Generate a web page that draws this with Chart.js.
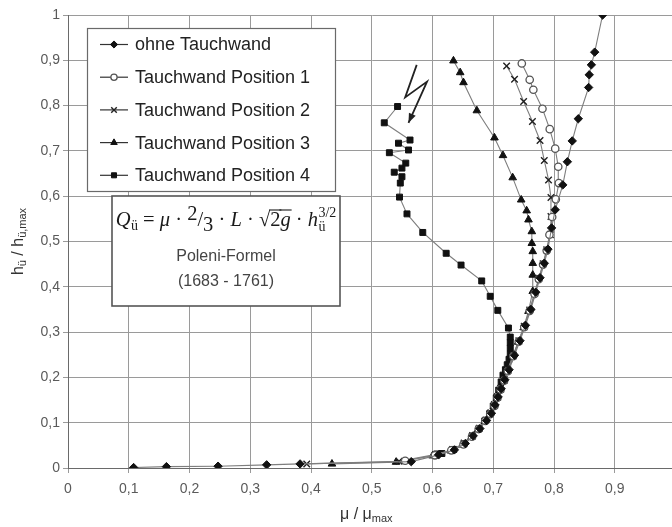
<!DOCTYPE html>
<html>
<head>
<meta charset="utf-8">
<script src="https://cdn.jsdelivr.net/npm/chart.js@4/dist/chart.umd.min.js"></script>
<style>
  html,body{margin:0;padding:0;background:#fff;overflow:hidden;}
  #wrap{width:690px;height:527px;position:relative;}
</style>
</head>
<body>
<div id="wrap"><canvas id="c"></canvas></div>
<script>
// ---------- data ----------
const seriesLabels = ['ohne Tauchwand','Tauchwand Position 1','Tauchwand Position 2','Tauchwand Position 3','Tauchwand Position 4'];
const xTickLabels = ['0','0,1','0,2','0,3','0,4','0,5','0,6','0,7','0,8','0,9','1'];
const yTickLabels = ['0','0,1','0,2','0,3','0,4','0,5','0,6','0,7','0,8','0,9','1'];

const ohneX = [0.108,0.162,0.247,0.327,0.382,0.565,0.610,0.636,0.654,0.667,0.678,0.689,0.697,0.703,0.708,0.713,0.719,0.726,0.735,0.744,0.753,0.762,0.770,0.777,0.784,0.790,0.796,0.802,0.8145,0.822,0.830,0.840,0.857,0.858,0.8615,0.867,0.880];
const ohneY = [0.001,0.003,0.004,0.007,0.009,0.014,0.029,0.040,0.054,0.071,0.087,0.105,0.121,0.139,0.157,0.175,0.195,0.217,0.249,0.281,0.315,0.350,0.388,0.420,0.452,0.483,0.530,0.570,0.625,0.676,0.722,0.771,0.840,0.868,0.890,0.918,1.0];

const pos1X = [0.555,0.604,0.631,0.651,0.665,0.676,0.687,0.695,0.702,0.707,0.712,0.718,0.724,0.733,0.742,0.751,0.760,0.768,0.775,0.782,0.788,0.7925,0.797,0.803,0.808,0.807,0.802,0.793,0.781,0.766,0.760,0.747];
const pos1Y = [0.016,0.028,0.039,0.052,0.069,0.086,0.104,0.119,0.137,0.155,0.173,0.193,0.214,0.247,0.279,0.311,0.347,0.384,0.417,0.449,0.480,0.515,0.554,0.593,0.629,0.665,0.705,0.748,0.793,0.835,0.857,0.893];

const pos2X = [0.393,0.545,0.606,0.633,0.652,0.666,0.677,0.688,0.696,0.702,0.707,0.712,0.718,0.724,0.733,0.742,0.751,0.760,0.768,0.775,0.782,0.788,0.794,0.795,0.795,0.791,0.784,0.777,0.7645,0.750,0.735,0.722];
const pos2Y = [0.009,0.015,0.030,0.041,0.055,0.072,0.088,0.106,0.122,0.140,0.158,0.176,0.196,0.217,0.249,0.281,0.313,0.349,0.386,0.419,0.451,0.482,0.515,0.555,0.597,0.636,0.679,0.723,0.765,0.809,0.858,0.8875];

const pos3X = [0.4345,0.540,0.600,0.630,0.650,0.664,0.675,0.686,0.694,0.701,0.706,0.711,0.717,0.723,0.732,0.741,0.750,0.758,0.765,0.765,0.765,0.765,0.7635,0.7635,0.758,0.755,0.746,0.732,0.716,0.702,0.673,0.651,0.6456,0.6345];
const pos3Y = [0.009,0.013,0.027,0.038,0.051,0.068,0.085,0.103,0.118,0.136,0.154,0.172,0.192,0.213,0.246,0.278,0.310,0.346,0.390,0.426,0.452,0.478,0.496,0.522,0.548,0.568,0.592,0.641,0.690,0.729,0.789,0.851,0.873,0.899];

const pos4X = [0.607,0.6155,0.635,0.652,0.665,0.676,0.686,0.694,0.700,0.705,0.709,0.713,0.716,0.720,0.723,0.726,0.728,0.728,0.728,0.728,0.725,0.7075,0.695,0.681,0.647,0.6225,0.584,0.558,0.5457,0.547,0.5497,0.537,0.5497,0.556,0.529,0.5605,0.544,0.563,0.5206,0.5425];
const pos4Y = [0.031,0.032,0.041,0.054,0.070,0.086,0.104,0.120,0.137,0.155,0.172,0.190,0.205,0.217,0.228,0.240,0.252,0.265,0.277,0.289,0.309,0.348,0.379,0.413,0.448,0.474,0.520,0.561,0.598,0.629,0.643,0.653,0.662,0.673,0.696,0.702,0.717,0.724,0.762,0.798];

// lightning-bolt annotation (data coordinates)
const boltX = [0.574,0.555,0.591,0.5605];
const boltY = [0.890,0.818,0.853,0.762];

// ---------- build ----------
const zip = (xs, ys) => xs.map((x, i) => ({x, y: ys[i]}));
const LINE = '#7e7e7e';
const styles = [
  {pointStyle:'rectRot',  radius:4.2, bg:'#111', bd:'#111', bw:1},
  {pointStyle:'circle',   radius:3.7, bg:'#fff', bd:'#555', bw:1.3},
  {pointStyle:'crossRot', radius:4.6, bg:'#222', bd:'#222', bw:1.4},
  {pointStyle:'triangle', radius:4.4, bg:'#111', bd:'#111', bw:1},
  {pointStyle:'rect',     radius:4.2, bg:'#111', bd:'#111', bw:1}
];
const seriesData = [zip(ohneX,ohneY), zip(pos1X,pos1Y), zip(pos2X,pos2Y), zip(pos3X,pos3Y), zip(pos4X,pos4Y)];

const datasets = seriesData.map((d, i) => ({
  label: seriesLabels[i],
  data: d,
  showLine: true,
  borderColor: LINE,
  borderWidth: 1.1,
  pointStyle: styles[i].pointStyle,
  pointRadius: styles[i].radius,
  pointBackgroundColor: styles[i].bg,
  pointBorderColor: styles[i].bd,
  pointBorderWidth: styles[i].bw,
  pointHoverRadius: styles[i].radius,
  tension: 0
}));
datasets.push({
  label: 'bolt',
  data: zip(boltX, boltY),
  showLine: true,
  borderColor: '#222',
  borderWidth: 1.8,
  pointRadius: 0,
  tension: 0
});

function drawMarker(ctx, st, x, y, r) {
  if (Chart.helpers && Chart.helpers.drawPoint) {
    ctx.save();
    ctx.fillStyle = st.bg; ctx.strokeStyle = st.bd; ctx.lineWidth = st.bw;
    Chart.helpers.drawPoint(ctx, {pointStyle: st.pointStyle, radius: r, rotation: 0, borderWidth: st.bw}, x, y);
    ctx.restore();
  }
}

// draw a sequence of text runs; returns width
function runs(ctx, items, x, y, measureOnly) {
  let cx = x;
  for (const it of items) {
    if (it.stack) {
      ctx.font = it.font;
      const w1 = ctx.measureText(it.sup).width, w2 = ctx.measureText(it.sub).width;
      if (!measureOnly) {
        ctx.fillText(it.sup, cx, y + it.dySup);
        ctx.fillText(it.sub, cx, y + it.dySub);
      }
      cx += Math.max(w1, w2);
      continue;
    }
    ctx.font = it.font;
    const w = ctx.measureText(it.t).width;
    if (!measureOnly) {
      ctx.fillText(it.t, cx, y + (it.dy || 0));
      if (it.over) {
        ctx.save(); ctx.lineWidth = 1.1; ctx.strokeStyle = ctx.fillStyle;
        ctx.beginPath(); ctx.moveTo(cx - 1, y - it.over); ctx.lineTo(cx + w + 1, y - it.over); ctx.stroke();
        ctx.restore();
      }
    }
    cx += w + (it.gap || 0);
  }
  return cx - x;
}

const overlay = {
  id: 'overlay',
  afterDatasetsDraw(chart) {
    const ctx = chart.ctx;
    const pts = chart.getDatasetMeta(5).data;
    const p1 = pts[pts.length - 2], p2 = pts[pts.length - 1];
    const a = Math.atan2(p2.y - p1.y, p2.x - p1.x);
    const L = 10, s = 0.38;
    ctx.save();
    ctx.fillStyle = '#222';
    ctx.beginPath();
    ctx.moveTo(p2.x, p2.y);
    ctx.lineTo(p2.x - L * Math.cos(a - s), p2.y - L * Math.sin(a - s));
    ctx.lineTo(p2.x - L * Math.cos(a + s), p2.y - L * Math.sin(a + s));
    ctx.closePath(); ctx.fill();
    ctx.restore();
  },
  afterDraw(chart) {
    const ctx = chart.ctx, ca = chart.chartArea;
    ctx.save();
    // ----- legend box -----
    const lx = ca.left + 19, ly = ca.top + 13, lw = 248, lh = 163;
    ctx.fillStyle = '#fff'; ctx.fillRect(lx, ly, lw, lh);
    ctx.strokeStyle = '#6a6a6a'; ctx.lineWidth = 1.2; ctx.strokeRect(lx + 0.5, ly + 0.5, lw, lh);
    ctx.textBaseline = 'middle'; ctx.textAlign = 'left';
    for (let i = 0; i < 5; i++) {
      const yy = ly + 16.5 + i * 32.7;
      ctx.strokeStyle = '#333'; ctx.lineWidth = 1.2;
      ctx.beginPath(); ctx.moveTo(lx + 13, yy); ctx.lineTo(lx + 41, yy); ctx.stroke();
      drawMarker(ctx, styles[i], lx + 27, yy, styles[i].radius * 0.85);
      ctx.fillStyle = '#222';
      ctx.font = '18px "Liberation Sans", Arial, sans-serif';
      ctx.fillText(seriesLabels[i], lx + 48, yy + 1);
    }
    // ----- formula box -----
    const fx = ca.left + 44, fy = ca.top + 181, fw = 228, fh = 110;
    ctx.fillStyle = '#fff'; ctx.fillRect(fx, fy, fw, fh);
    ctx.strokeStyle = '#555'; ctx.lineWidth = 1.6; ctx.strokeRect(fx, fy, fw, fh);
    const fs = 20.5;
    const I = `italic ${fs}px "Liberation Serif", "DejaVu Serif", serif`;
    const N = `${fs}px "Liberation Serif", "DejaVu Serif", serif`;
    const S = `${Math.round(fs*0.66)}px "Liberation Serif", "DejaVu Serif", serif`;
    const items = [
      {t:'Q', font:I, gap:0.5},
      {t:'ü', font:S, dy:4, gap:0},
      {t:' = ', font:N},
      {t:'μ', font:I},
      {t:' · ', font:N},
      {t:'2', font:N, dy:-6},
      {t:'/', font:N},
      {t:'3', font:N, dy:5},
      {t:' · ', font:N},
      {t:'L', font:I},
      {t:' · ', font:N},
      {t:'√', font:N},
      {t:'2', font:N, over:16},
      {t:'g', font:I, over:16},
      {t:' · ', font:N},
      {t:'h', font:I, gap:0.5},
      {stack:true, sup:'3/2', sub:'ü', font:S, dySup:-9, dySub:5}
    ];
    ctx.textBaseline = 'alphabetic';
    ctx.fillStyle = '#1a1a1a';
    const tw = runs(ctx, items, 0, 0, true);
    runs(ctx, items, fx + fw / 2 - tw / 2, fy + 30, false);
    ctx.textAlign = 'center';
    ctx.fillStyle = '#444';
    ctx.font = '16px "Liberation Sans", Arial, sans-serif';
    ctx.fillText('Poleni-Formel', fx + fw / 2, fy + 65);
    ctx.fillText('(1683 - 1761)', fx + fw / 2, fy + 90);
    // ----- x-axis title -----
    ctx.textAlign = 'left';
    ctx.fillStyle = '#333';
    const MT = '16px "Liberation Sans", Arial, sans-serif';
    const MS = '11px "Liberation Sans", Arial, sans-serif';
    const xt = [{t:'μ / μ', font:MT}, {t:'max', font:MS, dy:3}];
    runs(ctx, xt, 340, 519, false);
    // ----- y-axis title -----
    const yt = [{t:'h', font:MT}, {t:'ü', font:MS, dy:3}, {t:' / h', font:MT}, {t:'ü,max', font:MS, dy:3}];
    const yw = runs(ctx, yt, 0, 0, true);
    ctx.translate(23, (ca.top + ca.bottom) / 2 + yw / 2);
    ctx.rotate(-Math.PI / 2);
    runs(ctx, yt, 0, 0, false);
    ctx.restore();
  }
};

const tickFont = {family: '"Liberation Sans", Arial, sans-serif', size: 14};
new Chart(document.getElementById('c'), {
  type: 'scatter',
  data: {datasets},
  options: {
    responsive: true,
    maintainAspectRatio: false,
    animation: false,
    events: [],
    layout: {padding: {top: 15, right: 14.5, left: 0, bottom: 0}},
    plugins: {legend: {display: false}, tooltip: {enabled: false}},
    scales: {
      x: {
        type: 'linear', min: 0, max: 1,
        ticks: {stepSize: 0.1, color: '#5a5a5a', font: tickFont, padding: 8,
                callback: (v, i) => xTickLabels[i]},
        grid: {color: '#9a9a9a', lineWidth: 1, tickLength: 5},
        border: {color: '#6a6a6a', width: 1},
        afterFit: s => { s.height = 59; }
      },
      y: {
        type: 'linear', min: 0, max: 1,
        ticks: {stepSize: 0.1, color: '#5a5a5a', font: tickFont, padding: 3,
                callback: (v, i) => yTickLabels[i]},
        grid: {color: '#9a9a9a', lineWidth: 1, tickLength: 5},
        border: {color: '#6a6a6a', width: 1},
        afterFit: s => { s.width = 68; }
      }
    }
  },
  plugins: [overlay]
});
</script>
</body>
</html>
